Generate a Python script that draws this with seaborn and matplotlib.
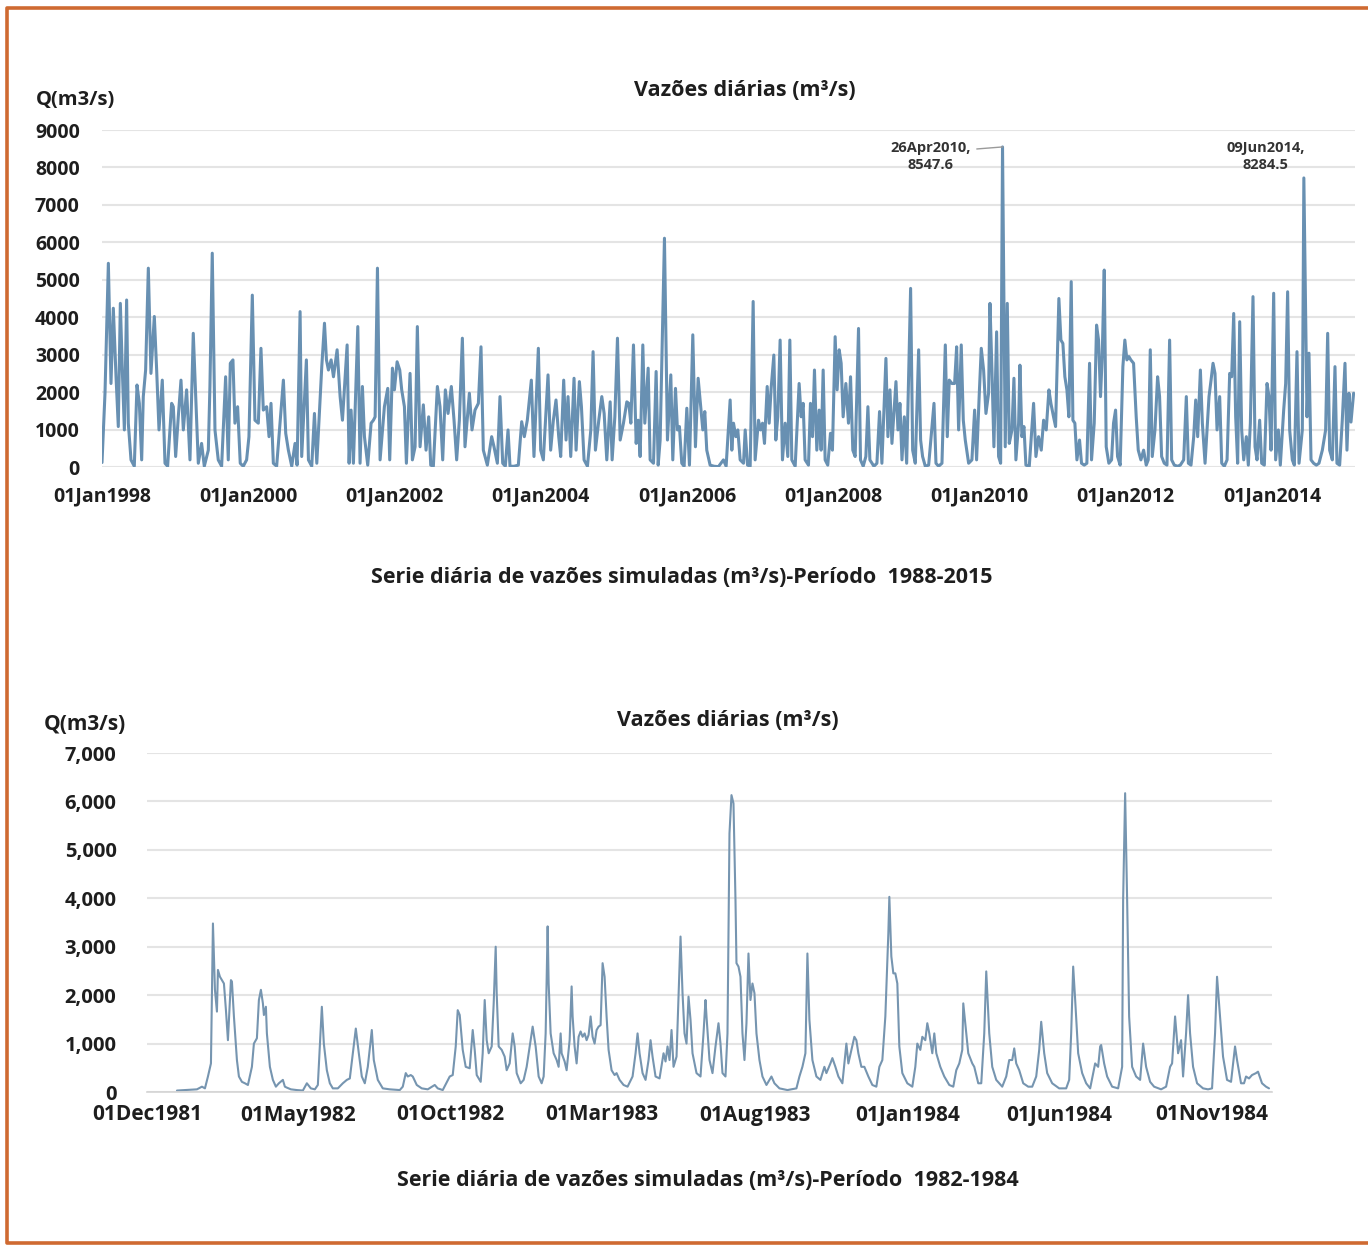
import pandas as pd
import matplotlib
matplotlib.use("Agg")
import matplotlib.pyplot as plt
import matplotlib.dates as mdates
from matplotlib.ticker import FuncFormatter, FixedLocator
from matplotlib.lines import Line2D
import seaborn as sns

# -----------------------------------------
# Data
# -----------------------------------------
# top panel: daily flow 1998-2015 (decimal year, m3/s)
top_year = [
    1998.000, 1998.041, 1998.087, 1998.123, 1998.155, 1998.192, 1998.223, 1998.251, 1998.278, 1998.306,
    1998.337, 1998.360, 1998.397, 1998.442, 1998.479, 1998.511, 1998.543, 1998.565, 1998.597, 1998.634,
    1998.670, 1998.716, 1998.748, 1998.780, 1998.825, 1998.862, 1998.898, 1998.953, 1998.976, 1999.008,
    1999.044, 1999.081, 1999.113, 1999.158, 1999.204, 1999.249, 1999.281, 1999.318, 1999.363, 1999.400,
    1999.455, 1999.477, 1999.509, 1999.546, 1999.591, 1999.637, 1999.692, 1999.728, 1999.756, 1999.792,
    1999.819, 1999.856, 1999.892, 1999.933, 1999.979, 2000.011, 2000.057, 2000.093, 2000.139, 2000.175,
    2000.207, 2000.253, 2000.285, 2000.312, 2000.344, 2000.389, 2000.481, 2000.513, 2000.549, 2000.595,
    2000.640, 2000.668, 2000.709, 2000.731, 2000.795, 2000.823, 2000.868, 2000.905, 2000.937, 2001.005,
    2001.042, 2001.069, 2001.096, 2001.133, 2001.165, 2001.215, 2001.256, 2001.288, 2001.352, 2001.379,
    2001.406, 2001.438, 2001.498, 2001.529, 2001.561, 2001.589, 2001.634, 2001.680, 2001.712, 2001.735,
    2001.767, 2001.803, 2001.862, 2001.908, 2001.935, 2001.972, 2001.999, 2002.036, 2002.072, 2002.099,
    2002.136, 2002.163, 2002.213, 2002.245, 2002.282,
    2002.313, 2002.350, 2002.395, 2002.432, 2002.468, 2002.496, 2002.532, 2002.587, 2002.623, 2002.660,
    2002.696, 2002.733, 2002.778, 2002.815, 2002.851, 2002.888, 2002.929, 2002.965, 2003.025, 2003.061,
    2003.102, 2003.148, 2003.184, 2003.216, 2003.271, 2003.330, 2003.362, 2003.408, 2003.444, 2003.481,
    2003.517, 2003.554, 2003.581, 2003.636, 2003.695, 2003.741, 2003.777, 2003.818, 2003.873, 2003.909,
    2003.969, 2004.001, 2004.037, 2004.101, 2004.137, 2004.174, 2004.210, 2004.247, 2004.274, 2004.315,
    2004.347, 2004.374, 2004.411, 2004.456, 2004.484, 2004.529, 2004.557, 2004.593, 2004.639, 2004.685,
    2004.716, 2004.748, 2004.794, 2004.835, 2004.867, 2004.903, 2004.949, 2004.976, 2005.013, 2005.049,
    2005.086, 2005.131, 2005.177, 2005.204, 2005.232, 2005.268, 2005.305, 2005.332, 2005.359, 2005.396,
    2005.423, 2005.469, 2005.496, 2005.542, 2005.578, 2005.606, 2005.633, 2005.692, 2005.733, 2005.779,
    2005.806, 2005.843, 2005.870, 2005.897, 2005.929, 2005.961, 2005.998, 2006.034, 2006.080, 2006.116,
    2006.153, 2006.180, 2006.217, 2006.244, 2006.271, 2006.317, 2006.372, 2006.431, 2006.499, 2006.536,
    2006.591, 2006.614, 2006.637, 2006.669, 2006.696, 2006.728, 2006.774, 2006.797, 2006.829, 2006.865,
    2006.906, 2006.933, 2006.979, 2007.006, 2007.034, 2007.061, 2007.098, 2007.125, 2007.152, 2007.189,
    2007.216, 2007.243, 2007.275, 2007.307, 2007.344, 2007.380, 2007.408, 2007.435, 2007.481, 2007.535,
    2007.563, 2007.590, 2007.617, 2007.663, 2007.690, 2007.718, 2007.745, 2007.777, 2007.809, 2007.836,
    2007.864, 2007.891, 2007.927, 2007.964, 2007.991, 2008.028, 2008.055, 2008.083, 2008.110, 2008.137,
    2008.174, 2008.210, 2008.238, 2008.269, 2008.301, 2008.347, 2008.374, 2008.411, 2008.447, 2008.475,
    2008.502, 2008.557, 2008.598, 2008.634, 2008.666, 2008.721, 2008.748, 2008.776, 2008.803, 2008.858,
    2008.885, 2008.912, 2008.940, 2008.972, 2009.004, 2009.058, 2009.086, 2009.122, 2009.168, 2009.195,
    2009.222, 2009.259, 2009.305, 2009.378, 2009.405, 2009.441, 2009.487, 2009.533, 2009.560, 2009.587,
    2009.624, 2009.660, 2009.688, 2009.715, 2009.751, 2009.779, 2009.806, 2009.852, 2009.897, 2009.934,
    2009.961, 2009.998, 2010.025, 2010.057, 2010.089, 2010.125, 2010.144, 2010.171, 2010.198, 2010.235,
    2010.262, 2010.290, 2010.316, 2010.353, 2010.381, 2010.408, 2010.445, 2010.472, 2010.499, 2010.536,
    2010.554, 2010.581, 2010.609, 2010.636, 2010.682, 2010.741, 2010.773, 2010.809, 2010.846, 2010.878,
    2010.914, 2010.951, 2010.978, 2011.014, 2011.042, 2011.087, 2011.115, 2011.142, 2011.169, 2011.197,
    2011.224, 2011.256, 2011.279, 2011.306, 2011.334, 2011.370, 2011.397, 2011.434, 2011.470, 2011.507,
    2011.534, 2011.571, 2011.603, 2011.630, 2011.657, 2011.680, 2011.708, 2011.735, 2011.771, 2011.808,
    2011.835, 2011.863, 2011.890, 2011.926, 2011.963, 2011.990, 2012.018, 2012.045, 2012.072, 2012.109,
    2012.145, 2012.173, 2012.209, 2012.246, 2012.282, 2012.309, 2012.337, 2012.364, 2012.401, 2012.437,
    2012.464, 2012.492, 2012.528, 2012.565, 2012.601, 2012.629, 2012.665, 2012.711, 2012.747, 2012.793,
    2012.829, 2012.857, 2012.893, 2012.930, 2012.957, 2012.984, 2013.021, 2013.048, 2013.085, 2013.139,
    2013.167, 2013.194, 2013.221, 2013.249, 2013.285, 2013.313, 2013.349, 2013.386, 2013.422, 2013.449,
    2013.477, 2013.504, 2013.531, 2013.559, 2013.586, 2013.614, 2013.650, 2013.677, 2013.705, 2013.741,
    2013.769, 2013.796, 2013.832, 2013.860, 2013.896, 2013.933, 2013.960, 2013.988, 2014.024, 2014.051,
    2014.088, 2014.115, 2014.161, 2014.188, 2014.215, 2014.243, 2014.279, 2014.307, 2014.343, 2014.371,
    2014.416, 2014.437, 2014.480, 2014.507, 2014.535, 2014.571, 2014.608, 2014.644, 2014.690, 2014.735,
    2014.763, 2014.790, 2014.827, 2014.863, 2014.890, 2014.927, 2014.963, 2015.000, 2015.027, 2015.054,
    2015.082, 2015.118,
]
top_q = [
    120, 1970, 5440, 2230, 4240, 2410, 1080, 4370, 2590, 990,
    4460, 1170, 190, 20, 2190, 1700, 190, 1880, 2590, 5310,
    2500, 4020, 2590, 990, 2320, 100, 20, 1700, 1610, 280,
    1340, 2320, 990, 2060, 190, 3570, 1970, 100, 630, 20,
    450, 2150, 5710, 990, 190, 20, 2410, 190, 2770, 2860,
    1170, 1610, 100, 20, 190, 810, 4590, 1250, 1170, 3170,
    1520, 1610, 810, 1700, 100, 20, 2320, 900, 450, 20,
    630, 50, 4150, 280, 2860, 190, 20, 1430, 100, 2680,
    3840, 2860, 2590, 2860, 2410, 3130, 1880, 1250, 3260, 100,
    1520, 100, 3750, 100, 2150, 810, 50, 1170, 1250, 1340,
    5310, 190, 1610, 2100, 190, 2640, 2060, 2810, 2590, 2060,
    1610, 100, 2500, 190, 540,
    3750, 540, 1660, 450, 1340, 50, 20, 2150, 1610, 190,
    2060, 1430, 2150, 1250, 190, 1250, 3440, 540, 1970, 990,
    1520, 1700, 3210, 450, 50, 810, 540, 100, 1880, 100,
    20, 990, 20, 20, 50, 1210, 810, 1250, 2320, 280,
    3170, 450, 190, 2460, 450, 1250, 1790, 810, 280, 2320,
    720, 1880, 280, 2370, 450, 2280, 1610, 190, 20, 990,
    3080, 450, 1250, 1880, 1430, 190, 1740, 190, 1340, 3440,
    720, 1170, 1740, 1700, 1170, 3260, 630, 1250, 280, 3260,
    1170, 2640, 190, 100, 2550, 50, 720, 6110, 720, 2460,
    190, 2100, 990, 1080, 100, 20, 1570, 50, 3530, 540,
    2370, 1790, 990, 1480, 450, 50, 20, 10, 190, 20,
    1790, 450, 1170, 810, 990, 190, 100, 990, 50, 20,
    4420, 190, 1250, 990, 1170, 630, 2150, 1170, 2100, 2990,
    720, 1340, 3390, 190, 1170, 280, 3390, 190, 20, 2230,
    1340, 1700, 190, 50, 1700, 810, 2590, 450, 1520, 450,
    2590, 190, 50, 900, 450, 3480, 2060, 3130, 2770, 1340,
    2230, 1170, 2410, 450, 280, 3700, 190, 20, 280, 1610,
    190, 20, 100, 1480, 100, 2900, 810, 2060, 630, 2280,
    990, 1700, 190, 1340, 100, 4770, 450, 100, 3130, 720,
    280, 20, 50, 1700, 100, 20, 100, 3260, 810, 2320,
    2230, 2230, 3210, 990, 3260, 1250, 720, 100, 190, 1520,
    190, 1970, 3170, 2590, 1430, 1970, 4370, 2590, 540, 3610,
    280, 100, 8547.6, 540, 4370, 630, 990, 2370, 190, 1170,
    2720, 810, 1080, 50, 20, 1700, 280, 810, 450, 1250,
    990, 2060, 1700, 1340, 1080, 4500, 3390, 3300, 2410, 2060,
    1340, 4950, 1250, 1170, 190, 720, 100, 50, 100, 2770,
    190, 1170, 3790, 3390, 1880, 2950, 5260, 540, 100, 190,
    1170, 1520, 280, 50, 2680, 3390, 2860, 2950, 2860, 2770,
    1340, 450, 190, 450, 50, 190, 3130, 280, 990, 2410,
    1880, 280, 100, 50, 3390, 190, 50, 20, 50, 190,
    1880, 100, 50, 810, 1790, 810, 2590, 1170, 100, 1880,
    2320, 2770, 2500, 990, 1880, 100, 20, 190, 2500, 2410,
    4100, 1340, 100, 3880, 990, 190, 810, 50, 1170, 4550,
    540, 190, 1250, 100, 50, 2230, 1880, 450, 4640, 190,
    990, 50, 1520, 2230, 4680, 990, 190, 50, 3080, 100,
    990, 7720, 1340, 3040, 190, 100, 50, 100, 450, 990,
    3570, 450, 190, 2680, 100, 50, 1250, 2770, 450, 1970,
    1200, 1970,
]
top_ticks = ["1998-01-01", "2000-01-01", "2002-01-01", "2004-01-01",
             "2006-01-01", "2008-01-01", "2010-01-01", "2012-01-01", "2014-01-01"]
top_yticks = [0, 1000, 2000, 3000, 4000, 5000, 6000, 7000, 8000, 9000]
top_notes = ["26Apr2010,\n8547.6", "09Jun2014,\n8284.5"]
top_note_at = [2010.316, 2014.437]

# bottom panel: daily flow 1982-1984 (days since 01Dec1981, m3/s)
bot_start = "1981-12-01"
bot_day = [
    30, 50, 55, 58, 61, 64, 66, 68, 70, 71, 73, 75, 77, 79, 81, 84, 85, 87, 90, 92,
    95, 98, 101, 105, 107, 110, 112, 114, 116, 117, 119, 120, 123, 126, 129, 132, 136, 138, 140, 144,
    150, 156, 160, 164, 168, 171, 175, 177, 180, 183, 186, 191, 196, 200, 203, 206, 209, 212, 215, 218,
    221, 225, 227, 231, 236, 243, 253, 256, 259, 261, 264, 266, 270, 275, 281, 288, 291, 296, 303, 306,
    309, 311, 313, 316, 319, 323, 326, 328, 330, 334, 336, 338, 340, 342, 345, 347, 349, 350, 352, 355,
    358, 360, 363, 366, 368, 370, 374, 377, 380, 384, 386, 389, 392, 395, 397, 399, 401, 402, 404, 407,
    410, 412, 414, 415, 418, 420, 423, 425, 426, 428, 430, 432, 434, 436, 438, 440, 442, 444, 446, 448,
    450, 452, 454, 456, 458, 460, 462, 465, 468, 470, 473, 477, 481, 486, 489, 491, 493, 496, 499, 502,
    504, 506, 509, 513, 517, 519, 521, 523, 525, 527, 530, 532, 534, 536, 538, 540, 542, 544, 546, 550,
    554, 557, 559, 560, 563, 566, 569, 572, 574, 576, 579, 581, 583, 585, 587, 589, 590, 592, 594, 596,
    598, 600, 602, 604, 606, 608, 610, 613, 616, 620, 625, 628, 633, 641, 650, 653, 656, 659, 661, 663,
    666, 670, 674, 678, 680, 684, 686, 689, 692, 696, 700, 702, 705, 708, 710, 712, 715, 718, 722, 726,
    730, 733, 736, 739, 742, 743, 745, 747, 749, 751, 753, 756, 761, 766, 769, 771, 774, 776, 779, 781,
    783, 786, 788, 790, 794, 798, 803, 807, 810, 813, 816, 817, 820, 822, 826, 828, 832, 835, 838, 840,
    843, 846, 850, 856, 860, 863, 866, 868, 870, 873, 877, 882, 886, 890, 893, 895, 898, 901, 906, 913,
    920, 923, 925, 927, 929, 932, 936, 940, 944, 947, 949, 952, 954, 955, 958, 961, 966, 972, 976, 977,
    979, 981, 983, 986, 990, 994, 997, 1000, 1004, 1008, 1015, 1020, 1024, 1026, 1029, 1032, 1035, 1037, 1040, 1042,
    1044, 1047, 1051, 1057, 1062, 1066, 1069, 1071, 1074, 1077, 1081, 1085, 1089, 1091, 1095, 1098, 1100, 1103, 1106, 1110,
    1112, 1116, 1120, 1123,
]
bot_q = [
    30, 55, 110, 75, 320, 590, 3480, 2110, 1660, 2520, 2380, 2310, 2240, 1690, 1070, 2310, 2280, 1560, 660, 320,
    210, 180, 145, 520, 1000, 1110, 1900, 2110, 1830, 1590, 1760, 1210, 520, 250, 110, 180, 250, 110, 90, 55,
    40, 30, 180, 75, 55, 145, 1760, 1000, 450, 180, 75, 75, 180, 250, 280, 800, 1310, 800, 320, 180,
    520, 1280, 660, 250, 75, 55, 40, 110, 390, 320, 350, 320, 145, 75, 55, 145, 75, 40, 320, 350,
    940, 1690, 1590, 870, 520, 490, 1280, 870, 350, 210, 800, 1900, 1070, 800, 940, 1830, 3000, 2040, 940, 870,
    730, 450, 590, 1210, 940, 390, 180, 250, 520, 1070, 1350, 940, 320, 180, 320, 1210, 3420, 2240, 1210, 800,
    660, 520, 1210, 800, 630, 450, 1070, 2180, 1560, 940, 590, 1140, 1250, 1140, 1210, 1070, 1180, 1560, 1140, 1000,
    1280, 1350, 1380, 2660, 2380, 1560, 870, 450, 350, 390, 250, 145, 110, 320, 800, 1210, 800, 390, 250, 660,
    1070, 730, 320, 280, 800, 630, 940, 660, 1280, 520, 730, 1970, 3210, 2040, 1210, 1000, 1970, 1490, 800, 390,
    320, 1210, 1900, 1560, 660, 390, 940, 1420, 1000, 390, 320, 1210, 5340, 6130, 5960, 3970, 2660, 2590, 2380, 1210,
    660, 1420, 2860, 1900, 2240, 2040, 1210, 660, 320, 145, 320, 180, 75, 40, 75, 320, 520, 800, 2860, 1490,
    660, 320, 250, 520, 390, 590, 700, 520, 320, 180, 1000, 590, 870, 1140, 1070, 800, 520, 520, 320, 145,
    110, 520, 660, 1560, 3280, 4030, 2800, 2450, 2450, 2240, 940, 390, 180, 110, 520, 1000, 870, 1140, 1070, 1420,
    1210, 800, 1210, 800, 520, 320, 145, 110, 450, 590, 870, 1830, 1210, 800, 590, 520, 180, 180, 1210, 2490,
    1210, 520, 250, 110, 320, 660, 660, 900, 590, 450, 180, 110, 110, 320, 870, 1450, 800, 390, 180, 75,
    75, 250, 1210, 2590, 1900, 800, 390, 180, 75, 390, 590, 520, 940, 970, 590, 320, 110, 75, 520, 3970,
    6170, 3970, 1560, 520, 320, 250, 1000, 520, 210, 110, 55, 110, 520, 590, 1560, 800, 1070, 320, 1210, 2000,
    1210, 520, 180, 75, 55, 75, 1210, 2380, 1560, 730, 250, 210, 940, 660, 180, 180, 320, 280, 350, 390,
    420, 180, 110, 75,
]
bot_ticks = ["1981-12-01", "1982-05-01", "1982-10-01", "1983-03-01",
             "1983-08-01", "1984-01-01", "1984-06-01", "1984-11-01"]
bot_yticks = [0, 1000, 2000, 3000, 4000, 5000, 6000, 7000]

title = "Vazões diárias (m³/s)"
ylab = "Q(m3/s)"
cap_top = "Serie diária de vazões simuladas (m³/s)-Período  1988-2015"
cap_bot = "Serie diária de vazões simuladas (m³/s)-Período  1982-1984"


def year_to_date(y):
    yr = int(y)
    a = pd.Timestamp(yr, 1, 1)
    b = pd.Timestamp(yr + 1, 1, 1)
    return a + (b - a) * (y - yr)


top = pd.DataFrame({"date": [year_to_date(y) for y in top_year], "q": top_q})
bot = pd.DataFrame({"date": pd.Timestamp(bot_start) + pd.to_timedelta(bot_day, unit="D"), "q": bot_q})

# -----------------------------------------
# Figure
# -----------------------------------------
sns.set_theme(style="white")
plt.rcParams["font.family"] = ["Open Sans", "DejaVu Sans"]
plt.rcParams["font.weight"] = "bold"

W, H = 1368, 1251
fig = plt.figure(figsize=(W / 100, H / 100), dpi=100)
fig.patch.set_facecolor("white")


def box(l, t, r, b):
    return [l / W, 1 - b / H, (r - l) / W, (b - t) / H]


def fx(x):
    return x / W


def fy(y):
    return 1 - y / H


txt = "#1e1e1e"
grid = "#e4e4e4"
BOLD = "bold"

# orange frame (open on the right, as in the scan)
fig.add_artist(Line2D([fx(1372), fx(7), fx(7), fx(1372)], [fy(8), fy(8), fy(1243), fy(1243)],
                      color="#cf6a31", lw=2.6, transform=fig.transFigure))

# ---- top panel ----
ax1 = fig.add_axes(box(102, 130, 1355, 467))
sns.lineplot(data=top, x="date", y="q", ax=ax1, color="#6890b2", linewidth=2.2,
             estimator=None, sort=False)
ax1.set_xlim(pd.Timestamp("1998-01-01"), pd.Timestamp("2015-02-20"))
ax1.set_ylim(0, 9000)
ax1.yaxis.set_major_locator(FixedLocator(top_yticks))
ax1.xaxis.set_major_locator(FixedLocator(mdates.date2num(pd.to_datetime(top_ticks))))
ax1.xaxis.set_major_formatter(mdates.DateFormatter("%d%b%Y"))
ax1.grid(axis="y", color=grid, lw=1.5)
ax1.set_axisbelow(True)
for s in ax1.spines.values():
    s.set_visible(False)
ax1.tick_params(axis="x", length=0, pad=14, labelsize=14, labelcolor=txt)
ax1.tick_params(axis="y", length=0, pad=16, labelsize=14, labelcolor=txt)
for lab in ax1.get_xticklabels() + ax1.get_yticklabels():
    lab.set_fontweight(BOLD)
ax1.set_xlabel("")
ax1.set_ylabel("")

ax1.annotate(top_notes[0], xy=(year_to_date(top_note_at[0]), 8547.6),
             xytext=(year_to_date(2009.33), 8300), ha="center", va="center",
             fontsize=10.5, fontweight=BOLD, color="#333333", linespacing=1.25,
             arrowprops=dict(arrowstyle="-", color="#9a9a9a", lw=1, relpos=(1.0, 0.72),
                             shrinkA=2, shrinkB=0))
ax1.text(year_to_date(2013.91), 8300, top_notes[1], ha="center", va="center",
         fontsize=10.5, fontweight=BOLD, color="#333333", linespacing=1.25)

fig.text(fx(36), fy(100), ylab, ha="left", va="center", fontsize=14.5, fontweight=BOLD, color=txt)
fig.text(fx(745), fy(90), title, ha="center", va="center", fontsize=15.5, fontweight=BOLD, color=txt)
fig.text(fx(682), fy(578), cap_top, ha="center", va="center", fontsize=15.5, fontweight=BOLD, color=txt)

# ---- bottom panel ----
ax2 = fig.add_axes(box(147, 753, 1272, 1092))
sns.lineplot(data=bot, x="date", y="q", ax=ax2, color="#7695b0", linewidth=1.5,
             estimator=None, sort=False)
ax2.set_xlim(pd.Timestamp("1981-12-01"), pd.Timestamp("1984-12-31"))
ax2.set_ylim(0, 7000)
ax2.yaxis.set_major_locator(FixedLocator(bot_yticks))
ax2.yaxis.set_major_formatter(FuncFormatter(lambda v, _: f"{int(v):,}"))
ax2.xaxis.set_major_locator(FixedLocator(mdates.date2num(pd.to_datetime(bot_ticks))))
ax2.xaxis.set_major_formatter(mdates.DateFormatter("%d%b%Y"))
ax2.grid(axis="y", color=grid, lw=1.5)
ax2.set_axisbelow(True)
for s in ax2.spines.values():
    s.set_visible(False)
ax2.spines["bottom"].set_visible(True)
ax2.spines["bottom"].set_color("#d4d4d4")
ax2.spines["bottom"].set_linewidth(1.2)
ax2.tick_params(axis="x", length=5, width=1, color="#d4d4d4", pad=4, labelsize=15, labelcolor=txt)
ax2.tick_params(axis="y", length=0, pad=22, labelsize=14.5, labelcolor=txt)
for lab in ax2.get_xticklabels() + ax2.get_yticklabels():
    lab.set_fontweight(BOLD)
ax2.set_xlabel("")
ax2.set_ylabel("")

fig.text(fx(44), fy(725), ylab, ha="left", va="center", fontsize=15, fontweight=BOLD, color=txt)
fig.text(fx(728), fy(720), title, ha="center", va="center", fontsize=15.5, fontweight=BOLD, color=txt)
fig.text(fx(708), fy(1180), cap_bot, ha="center", va="center", fontsize=15.5, fontweight=BOLD, color=txt)

fig.savefig("out.png", dpi=100, facecolor="white")
